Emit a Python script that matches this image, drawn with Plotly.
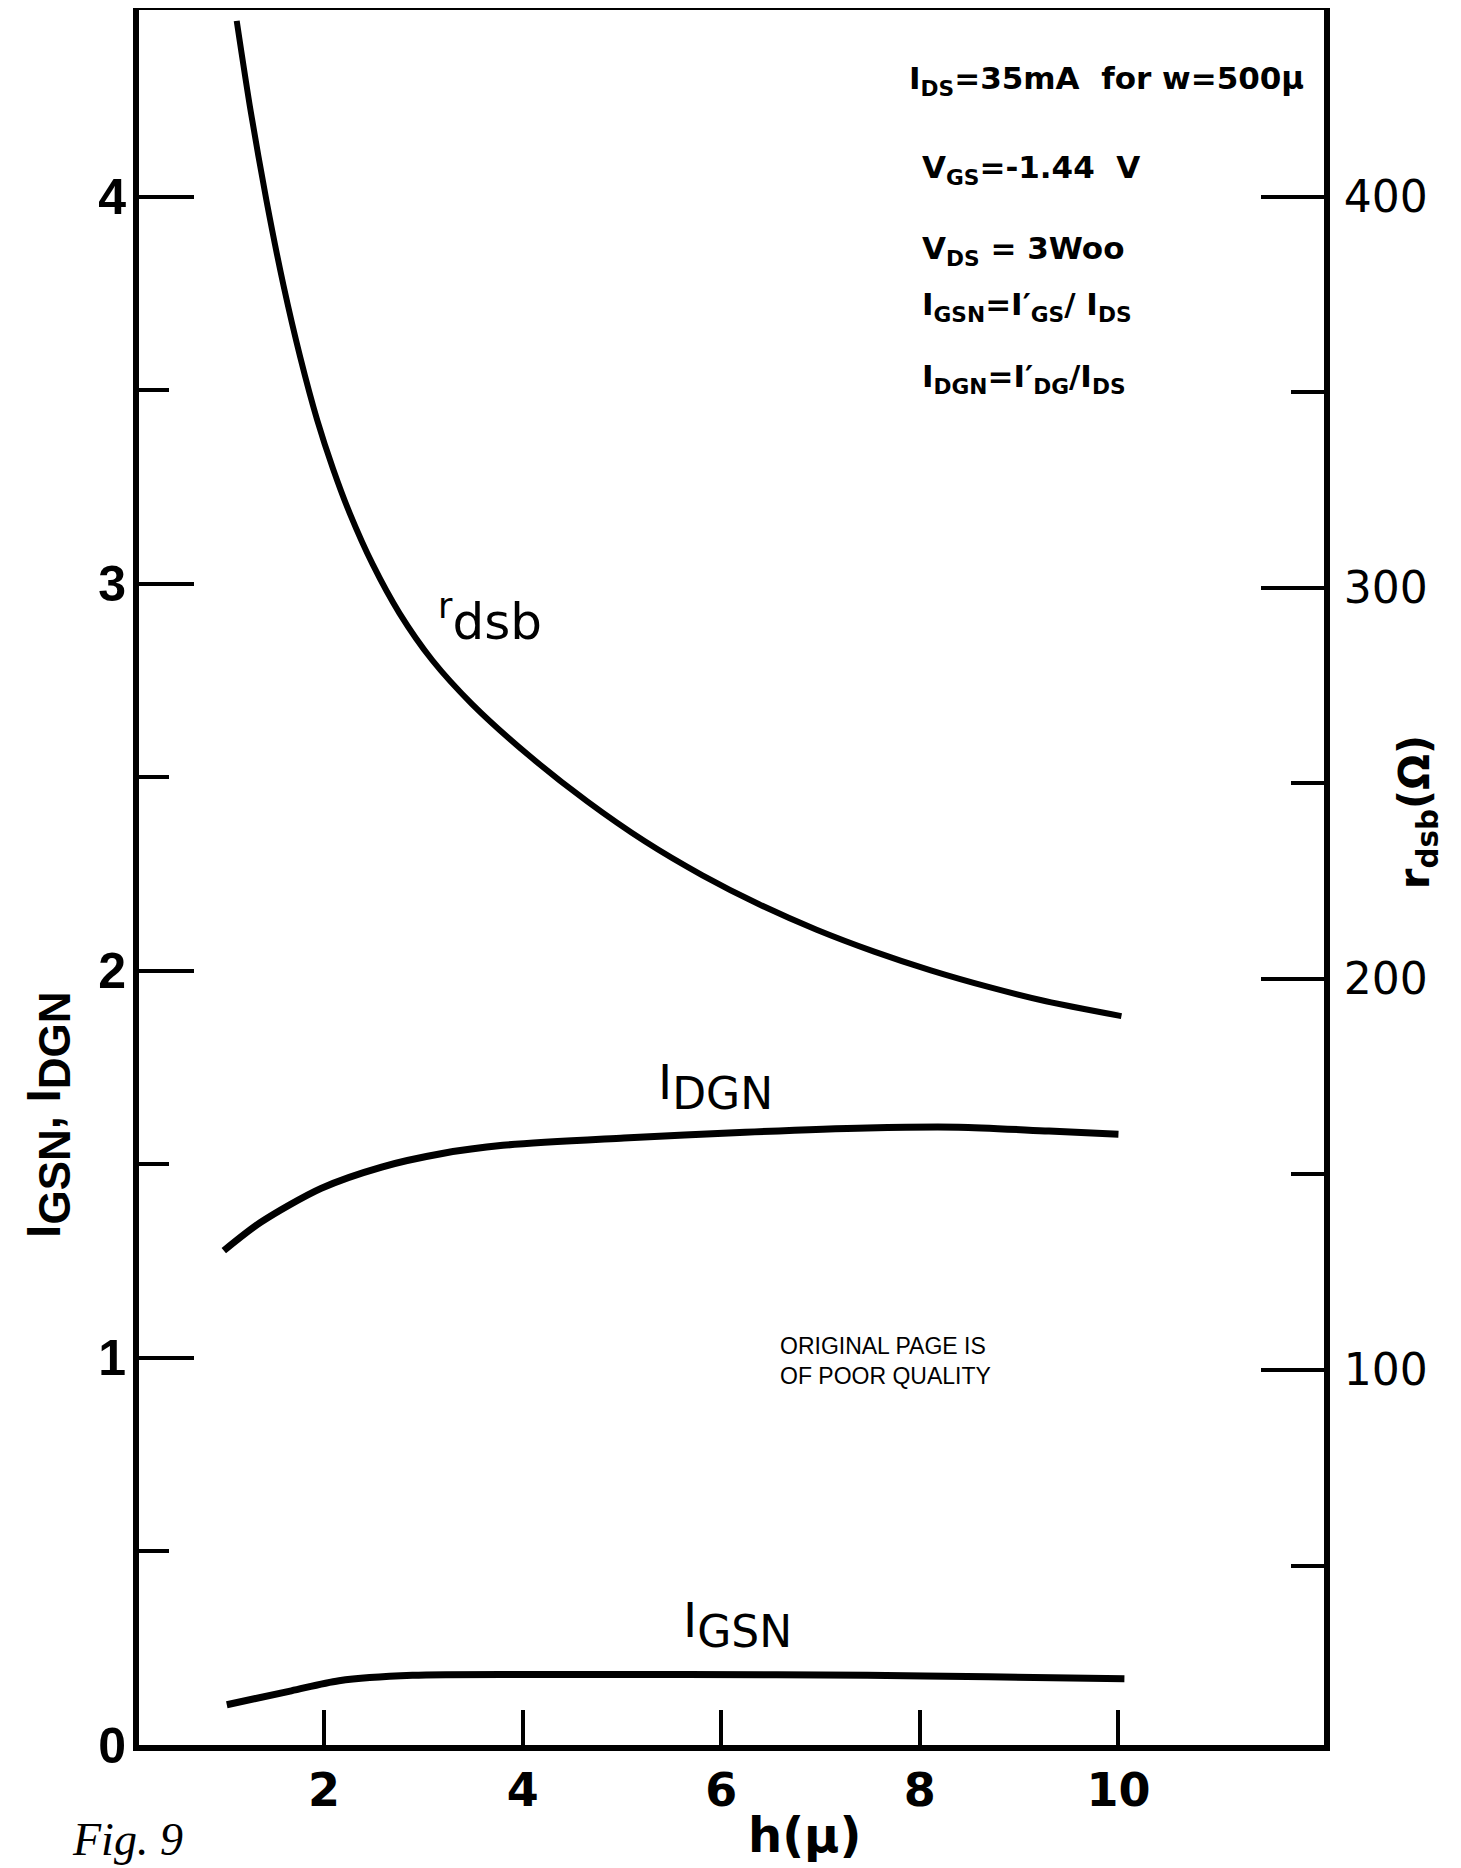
import plotly.graph_objects as go

# ---- data ----
h_rdsb = [1.12, 1.26, 1.42, 1.59, 1.76, 1.93, 2.09, 2.26, 2.49, 2.76, 3.09, 3.49,
          4.07, 4.65, 5.23, 5.81, 6.38, 6.96, 7.54, 8.11, 8.70, 9.27, 10.03]
rdsb_ohm = [445, 422, 399, 377.5, 359, 343, 330.5, 319, 306, 293.5, 281.5, 270.3,
            257, 245.4, 235.2, 226.5, 219.1, 212.6, 207, 202.2, 197.9, 194.3, 190.5]

h_idgn = [0.99, 1.36, 1.97, 2.58, 3.19, 3.80, 5.02, 6.24, 7.47, 8.39, 9.30, 10.0]
idgn = [1.277, 1.35, 1.438, 1.493, 1.528, 1.549, 1.568, 1.583, 1.594, 1.596, 1.586, 1.578]

h_igsn = [1.02, 1.67, 2.15, 2.89, 4.42, 5.64, 7.47, 8.69, 10.06]
igsn = [0.104, 0.14, 0.166, 0.18, 0.182, 0.182, 0.18, 0.176, 0.171]

x_ticks = [2, 4, 6, 8, 10]
left_ticks = [0, 1, 2, 3, 4]
right_ticks = [100, 200, 300, 400]

LINE = dict(color="black", width=6, shape="spline", smoothing=0.8)

fig = go.Figure()
fig.add_trace(go.Scatter(x=h_rdsb, y=rdsb_ohm, yaxis="y2", mode="lines", line=LINE, hoverinfo="skip"))
fig.add_trace(go.Scatter(x=h_idgn, y=idgn, mode="lines", line=dict(LINE, width=7), hoverinfo="skip"))
fig.add_trace(go.Scatter(x=h_igsn, y=igsn, mode="lines", line=dict(LINE, width=7), hoverinfo="skip"))

# page body adds an 8px offset, so the figure is 8px smaller on each axis
fig.update_layout(
    width=1453, height=1860,
    margin=dict(l=131, r=137, t=0, b=123),
    paper_bgcolor="white", plot_bgcolor="white",
    showlegend=False,
    xaxis=dict(
        range=[0.136, 12.07], tickvals=x_ticks, ticks="inside", ticklen=35, tickwidth=4,
        tickcolor="black", showline=True, linewidth=6, linecolor="black",
        showgrid=False, zeroline=False, ticklabelstandoff=0,
        tickfont=dict(family="DejaVu Sans", size=46, color="black", weight="bold"),
    ),
    yaxis=dict(
        range=[0, 4.487], tickvals=left_ticks, ticks="inside", ticklen=55, tickwidth=4,
        tickcolor="black", showline=True, linewidth=6, linecolor="black",
        showgrid=False, zeroline=False, ticklabelstandoff=-3,
        minor=dict(ticks="inside", ticklen=30, tickwidth=4, tickcolor="black", dtick=0.5, tick0=0, showgrid=False),
        tickfont=dict(family="Liberation Sans", size=50, color="black", weight="bold"),
    ),
    yaxis2=dict(
        overlaying="y", side="right",
        range=[4.1, 448.3], tickvals=right_ticks, ticks="inside", ticklen=63, tickwidth=4,
        tickcolor="black", showline=True, linewidth=6, linecolor="black",
        showgrid=False, zeroline=False, ticklabelstandoff=5,
        minor=dict(ticks="inside", ticklen=33, tickwidth=4, tickcolor="black", dtick=50, tick0=0, showgrid=False),
        tickfont=dict(family="DejaVu Sans", size=44, color="black"),
    ),
)

# top frame line
fig.add_shape(type="line", xref="paper", yref="paper", x0=0, x1=1, y0=1, y1=1,
              line=dict(color="black", width=4))

ann_font = dict(family="DejaVu Sans", size=31, color="black", weight="bold")
info_lines = [
    ("I<sub>DS</sub>=35mA  for w=500μ", 7.87, 4.30),
    ("V<sub>GS</sub>=-1.44  V", 8.0, 4.07),
    ("V<sub>DS</sub> = 3Woo", 8.0, 3.86),
    ("I<sub>GSN</sub>=I′<sub>GS</sub>/ I<sub>DS</sub>", 8.0, 3.715),
    ("I<sub>DGN</sub>=I′<sub>DG</sub>/I<sub>DS</sub>", 8.0, 3.53),
]
for txt, xx, yy in info_lines:
    fig.add_annotation(x=xx, y=yy, xref="x", yref="y", text=txt, showarrow=False,
                       xanchor="left", yanchor="middle", font=ann_font)

lab_font = dict(family="DejaVu Sans", size=48, color="black")
fig.add_annotation(x=3.67, y=2.91, xref="x", yref="y", text="<sup>r</sup>dsb", showarrow=False,
                   xanchor="center", yanchor="middle", font=dict(family="DejaVu Sans", size=50, color="black"))
fig.add_annotation(x=5.94, y=1.70, xref="x", yref="y",
                   text="I<sub><span style='font-size:44px'>DGN</span></sub>", showarrow=False,
                   xanchor="center", yanchor="middle", font=lab_font)
fig.add_annotation(x=6.16, y=0.31, xref="x", yref="y",
                   text="I<sub><span style='font-size:44px'>GSN</span></sub>", showarrow=False,
                   xanchor="center", yanchor="middle", font=lab_font)

# axis titles and page notes
fig.add_annotation(x=-0.0768, y=0.3633, xref="paper", yref="paper", textangle=-90,
                   text="I<sub><span style='font-size:44px'>GSN</span></sub>, I<sub><span style='font-size:44px'>DGN</span></sub>",
                   showarrow=False, xanchor="center", yanchor="middle",
                   font=dict(family="Liberation Sans", size=48, color="black", weight="bold"))
fig.add_annotation(x=1.0785, y=0.537, xref="paper", yref="paper", textangle=-90,
                   text="r<sub>dsb</sub>(Ω)", showarrow=False, xanchor="center", yanchor="middle",
                   font=dict(family="DejaVu Sans", size=42, color="black", weight="bold"))
fig.add_annotation(x=0.562, y=-0.052, xref="paper", yref="paper", text="h(μ)",
                   showarrow=False, xanchor="center", yanchor="middle",
                   font=dict(family="DejaVu Sans", size=48, color="black", weight="bold"))
fig.add_annotation(x=-0.0093, y=-0.0705, xref="paper", yref="paper", text="<i>Fig. 9</i>",
                   showarrow=False, xanchor="center", yanchor="bottom",
                   font=dict(family="Liberation Serif", size=46, color="black"))
fig.add_annotation(x=0.539, y=0.221, xref="paper", yref="paper",
                   text="ORIGINAL PAGE IS<br>OF POOR QUALITY", align="left",
                   showarrow=False, xanchor="left", yanchor="middle",
                   font=dict(family="Liberation Sans", size=23, color="black"))

fig.write_html("out.html")
